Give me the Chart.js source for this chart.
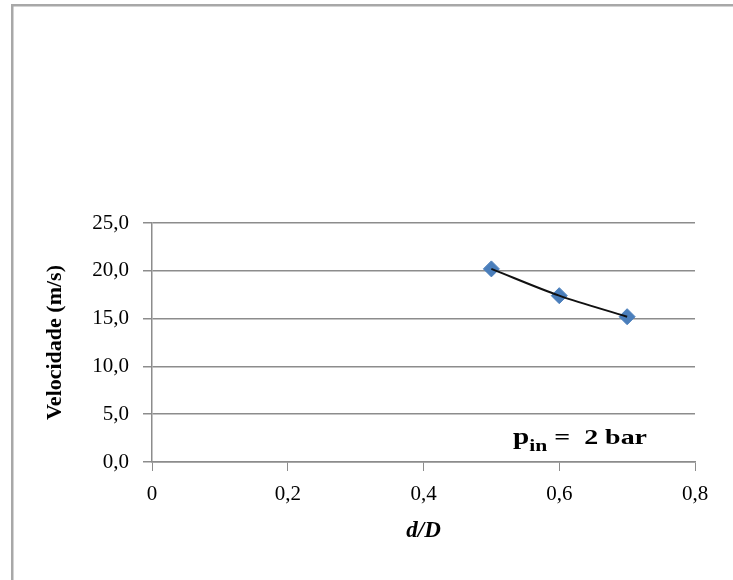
<!DOCTYPE html>
<html>
<head>
<meta charset="utf-8">
<script src="https://cdn.jsdelivr.net/npm/chart.js@4"></script>
<style>
  html, body { margin: 0; padding: 0; background: #fff; }
  #wrap { position: relative; width: 733px; height: 580px; }
</style>
</head>
<body>
<div id="wrap"><canvas id="c" width="733" height="580"></canvas></div>
<script>
// Measured velocity for each diameter ratio d/D at inlet pressure 2 bar
const ratios = [0.5, 0.6, 0.7];
const velocities = [20.2, 17.4, 15.2];

// Axis tick labels (decimal comma)
const xTickLabels = ['0', '0,2', '0,4', '0,6', '0,8'];
const yTickLabels = ['0,0', '5,0', '10,0', '15,0', '20,0', '25,0'];

const points = ratios.map((r, i) => ({ x: r, y: velocities[i] }));

const SERIF = '"Liberation Serif", "Times New Roman", serif';
const GRID = '#8c8c8c';

// Frame around the chart area and the pressure note
const decor = {
  id: 'decor',
  beforeDraw(chart) {
    const ctx = chart.ctx;
    ctx.save();
    ctx.strokeStyle = '#a8a8a8';
    ctx.lineWidth = 2.5;
    ctx.strokeRect(12.25, 5.25, 900, 900);
    ctx.restore();
  },
  afterDraw(chart) {
    const ctx = chart.ctx;
    const a = chart.chartArea;
    const parts = [
      { t: 'p', f: 'bold 23px ' + SERIF, dy: 0 },
      { t: 'in', f: 'bold 17px ' + SERIF, dy: 7 },
      { t: ' =  2 bar', f: 'bold 22px ' + SERIF, dy: 0 }
    ];
    ctx.save();
    let total = 0;
    parts.forEach(p => { ctx.font = p.f; p.w = ctx.measureText(p.t).width; total += p.w; });
    const boxW = 134;
    ctx.translate(a.right - 182, a.bottom - 18);
    ctx.scale(boxW / total, 1);
    ctx.fillStyle = '#000';
    ctx.textBaseline = 'alphabetic';
    let x = 0;
    parts.forEach(p => { ctx.font = p.f; ctx.fillText(p.t, x, p.dy); x += p.w; });
    ctx.restore();
  }
};

new Chart(document.getElementById('c'), {
  type: 'scatter',
  data: {
    datasets: [
      {
        // smooth trend through the measurements
        data: points,
        showLine: true,
        borderColor: '#111',
        borderWidth: 2,
        cubicInterpolationMode: 'monotone',
        pointRadius: 0,
        fill: false
      },
      {
        data: points,
        pointStyle: 'rectRot',
        pointRadius: 8,
        pointBackgroundColor: '#4a7ebb',
        pointBorderColor: '#4a7ebb',
        pointBorderWidth: 1,
        showLine: false
      }
    ]
  },
  options: {
    responsive: false,
    animation: false,
    devicePixelRatio: 1,
    layout: { padding: { left: 0, right: 38, top: 223, bottom: 0 } },
    plugins: { legend: { display: false }, tooltip: { enabled: false } },
    scales: {
      x: {
        type: 'linear',
        min: 0, max: 0.8,
        afterFit(s) { s.height = 118; },
        ticks: {
          stepSize: 0.2,
          color: '#000',
          padding: 11,
          font: { family: SERIF, size: 21 },
          callback: (v, i) => xTickLabels[i]
        },
        grid: { drawOnChartArea: false, drawTicks: true, tickLength: 9, color: GRID, lineWidth: 1 },
        border: { color: GRID, width: 1.5 },
        title: {
          display: true,
          text: 'd/D',
          color: '#000',
          font: { family: SERIF, size: 23, weight: 'bold', style: 'italic' },
          padding: { top: 0, bottom: 35 }
        }
      },
      y: {
        min: 0, max: 25,
        afterFit(s) { s.width = 152; },
        ticks: {
          stepSize: 5,
          color: '#000',
          padding: 14,
          font: { family: SERIF, size: 21 },
          callback: (v, i) => yTickLabels[i]
        },
        grid: { drawTicks: true, tickLength: 9, color: GRID, lineWidth: 1.5 },
        border: { color: GRID, width: 1.5 },
        title: {
          display: true,
          text: 'Velocidade (m/s)',
          color: '#000',
          font: { family: SERIF, size: 22, weight: 'bold' },
          padding: { top: 42, bottom: 0 }
        }
      }
    }
  },
  plugins: [decor]
});
</script>
</body>
</html>
